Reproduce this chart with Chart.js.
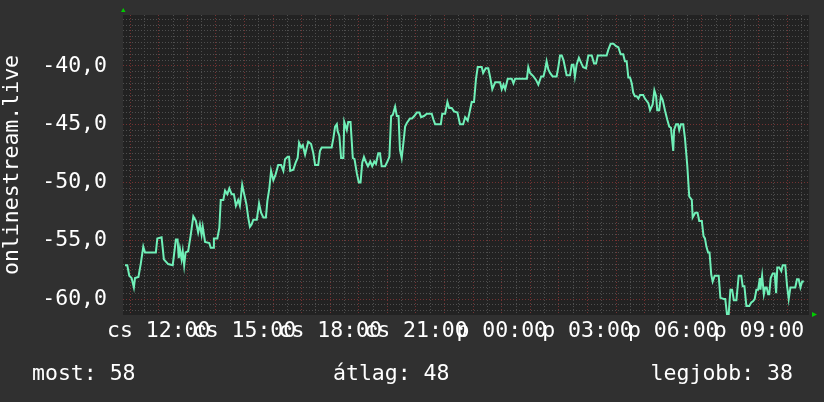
<!DOCTYPE html>
<html>
<head>
<meta charset="utf-8">
<script src="https://cdn.jsdelivr.net/npm/chart.js"></script>
<style>
html, body { margin: 0; padding: 0; background: #303030; }
#wrap { width: 824px; height: 402px; }
</style>
</head>
<body>
<div id="wrap"><canvas id="chart" width="824" height="402"></canvas></div>
<script>
// time in hours (24 = midnight of next day), signal level
const times = [10.82,10.90,10.97,11.05,11.13,11.17,11.29,11.37,11.46,11.52,11.90,11.95,12.10,12.18,12.33,12.49,12.53,12.60,12.66,12.70,
12.74,12.80,12.84,12.89,12.94,13.03,13.12,13.21,13.30,13.38,13.44,13.50,13.54,13.62,13.77,13.82,13.91,13.93,14.05,14.12,
14.17,14.26,14.32,14.40,14.47,14.55,14.63,14.70,14.78,14.84,14.92,14.99,15.07,15.13,15.19,15.25,15.31,15.43,15.51,15.58,
15.66,15.75,15.80,15.87,15.93,16.01,16.09,16.18,16.28,16.36,16.42,16.51,16.56,16.60,16.71,16.79,16.86,16.91,16.98,17.04,
17.12,17.18,17.23,17.33,17.41,17.47,17.58,17.64,17.70,18.05,18.11,18.17,18.23,18.26,18.32,18.38,18.46,18.49,18.58,18.63,
18.71,18.79,18.85,18.93,19.00,19.06,19.12,19.18,19.24,19.32,19.40,19.47,19.54,19.60,19.68,19.74,19.80,19.92,20.00,20.07,
20.13,20.19,20.27,20.33,20.39,20.44,20.50,20.56,20.62,20.68,20.79,20.86,20.94,21.03,21.12,21.18,21.28,21.38,21.55,21.61,
21.67,21.87,21.92,22.02,22.10,22.16,22.25,22.33,22.45,22.54,22.65,22.72,22.81,22.89,22.95,23.03,23.10,23.16,23.30,23.35,
23.44,23.53,23.59,23.67,23.77,23.94,24.00,24.06,24.12,24.21,24.35,24.41,24.47,24.88,24.93,24.99,25.11,25.20,25.28,25.38,
25.46,25.52,25.57,25.63,25.69,25.78,25.92,25.98,26.04,26.10,26.16,26.22,26.27,26.39,26.45,26.51,26.56,26.62,26.70,26.79,
26.85,26.95,27.03,27.15,27.23,27.30,27.36,27.67,27.73,27.81,27.91,28.00,28.08,28.16,28.25,28.31,28.37,28.43,28.49,28.55,
28.60,28.66,28.72,28.78,28.84,28.95,29.01,29.13,29.19,29.28,29.34,29.40,29.44,29.51,29.57,29.63,29.71,29.79,29.86,29.92,
30.00,30.03,30.10,30.17,30.21,30.27,30.35,30.41,30.49,30.56,30.65,30.68,30.77,30.85,30.91,31.00,31.06,31.11,31.16,31.22,
31.27,31.33,31.38,31.45,31.59,31.65,31.77,31.82,31.88,31.94,32.00,32.06,32.12,32.21,32.29,32.38,32.43,32.49,32.56,32.66,
32.73,32.79,32.85,32.91,32.97,33.03,33.05,33.11,33.17,33.22,33.27,33.32,33.36,33.41,33.48,33.55,33.60,33.64,33.71,33.78,
33.83,33.92,33.98,34.04,34.10,34.27,34.33,34.39,34.45,34.51,34.57];

const levels = [-57.1,-57.1,-58.0,-58.2,-59.0,-58.2,-58.1,-57.0,-55.5,-56.0,-56.0,-54.8,-54.7,-56.6,-57.0,-57.1,-56.3,-54.9,-54.9,-56.5,
-55.7,-56.6,-55.9,-57.1,-56.0,-55.9,-54.5,-52.9,-53.3,-54.3,-53.6,-54.5,-53.8,-55.1,-55.2,-55.6,-55.6,-54.8,-54.8,-53.9,
-51.5,-51.5,-50.7,-51.0,-50.5,-51.0,-51.0,-52.0,-51.5,-52.0,-50.2,-51.0,-51.9,-53.0,-53.8,-53.6,-53.2,-53.2,-51.8,-52.6,
-53.0,-53.0,-51.6,-50.5,-49.0,-49.8,-49.3,-48.5,-48.5,-49.0,-48.0,-47.8,-47.8,-49.0,-48.9,-48.3,-47.9,-46.6,-47.0,-46.8,
-47.6,-47.0,-46.5,-46.7,-47.5,-48.5,-48.5,-47.3,-47.0,-47.0,-46.2,-45.2,-45.0,-45.6,-46.0,-47.9,-47.9,-44.8,-45.5,-44.8,
-44.8,-47.9,-48.0,-49.2,-50.0,-50.0,-48.3,-47.8,-48.2,-48.6,-48.2,-48.6,-48.2,-48.4,-47.5,-47.5,-48.6,-48.6,-48.2,-47.8,
-44.3,-44.2,-43.5,-44.3,-44.3,-47.2,-47.9,-46.6,-45.2,-44.9,-44.5,-44.5,-44.3,-44.0,-44.0,-44.4,-44.3,-44.1,-44.1,-44.6,
-45.0,-45.0,-44.1,-44.1,-43.1,-43.6,-43.6,-43.9,-44.0,-45.0,-45.0,-44.4,-44.7,-43.8,-43.1,-43.1,-41.1,-40.1,-40.1,-40.6,
-40.2,-40.2,-40.9,-42.0,-41.4,-41.4,-42.0,-41.6,-42.0,-41.1,-41.1,-41.5,-41.1,-41.1,-40.1,-40.6,-40.9,-41.2,-41.6,-40.9,
-40.9,-40.3,-39.6,-40.3,-40.6,-40.9,-40.9,-40.1,-39.1,-39.1,-39.5,-40.2,-40.8,-40.8,-39.9,-39.9,-40.9,-39.9,-39.3,-39.8,
-40.1,-40.2,-39.1,-39.1,-39.8,-39.8,-39.1,-39.1,-38.6,-38.1,-38.1,-38.3,-38.4,-39.0,-39.0,-39.6,-39.6,-41.0,-41.0,-41.5,
-42.3,-42.6,-42.6,-42.8,-42.5,-42.5,-42.8,-43.2,-43.8,-43.3,-42.1,-42.6,-43.8,-43.8,-42.6,-42.9,-43.8,-44.6,-45.2,-45.3,
-47.3,-45.5,-45.0,-45.0,-45.5,-45.0,-45.0,-46.2,-48.5,-51.2,-51.5,-53.0,-52.6,-52.6,-53.3,-53.3,-54.6,-54.8,-55.5,-56.0,
-56.0,-57.9,-58.5,-58.0,-58.0,-59.9,-60.0,-60.0,-61.3,-61.3,-59.2,-59.2,-60.1,-60.1,-58.0,-58.0,-58.9,-58.9,-60.6,-60.6,
-60.3,-60.2,-60.0,-59.2,-59.2,-58.2,-59.2,-58.0,-59.6,-59.0,-59.0,-59.6,-59.6,-58.2,-57.8,-57.8,-59.5,-57.3,-57.3,-57.6,
-57.1,-57.1,-58.8,-60.0,-59.0,-59.0,-58.3,-58.3,-59.0,-58.5,-58.5];

const tickHours = [12, 15, 18, 21, 24, 27, 30, 33];
const tickLabels = ['cs 12:00', 'cs 15:00', 'cs 18:00', 'cs 21:00', 'p 00:00', 'p 03:00', 'p 06:00', 'p 09:00'];
const yLabelValues = [-60, -55, -50, -45, -40];
const statNames = ['most', 'átlag', 'legjobb'];
const statValues = [58, 48, 38];
const axisTitle = 'onlinestream.live';

const FONT = "'DejaVu Sans Mono', monospace";
const gridGrey = '#4e4e4e';
const gridRed = '#743232';

const xGrid = [];
for (let h = 11; h <= 34.5; h += 0.5) xGrid.push(h);
const yGrid = [];
for (let v = -61; v <= -36; v += 0.5) yGrid.push(v);

const rrdDecor = {
  id: 'rrdDecor',
  beforeDraw(chart) {
    const { ctx, chartArea: a } = chart;
    ctx.save();
    ctx.fillStyle = '#303030';
    ctx.fillRect(0, 0, chart.width, chart.height);
    ctx.fillStyle = '#222222';
    ctx.fillRect(a.left, a.top, a.right - a.left, a.bottom - a.top);
    ctx.restore();
  },
  afterDraw(chart) {
    const { ctx, chartArea: a } = chart;
    ctx.save();
    // axis arrows
    ctx.fillStyle = '#00cc00';
    ctx.beginPath();
    ctx.moveTo(a.left - 2, a.top - 3);
    ctx.lineTo(a.left + 2.5, a.top - 3);
    ctx.lineTo(a.left + 0.25, a.top - 7);
    ctx.closePath();
    ctx.fill();
    ctx.beginPath();
    ctx.moveTo(a.right + 3, a.bottom - 3);
    ctx.lineTo(a.right + 3, a.bottom + 2);
    ctx.lineTo(a.right + 8, a.bottom - 0.5);
    ctx.closePath();
    ctx.fill();
    // summary line
    ctx.fillStyle = '#ffffff';
    ctx.font = '21.5px ' + FONT;
    ctx.textBaseline = 'middle';
    const txt = statNames.map((n, i) => n + ': ' + statValues[i]);
    ctx.textAlign = 'left';
    ctx.fillText(txt[0], 32, 374);
    ctx.fillText(txt[1], 333, 374);
    ctx.textAlign = 'right';
    ctx.fillText(txt[2], 793, 374);
    ctx.restore();
  }
};

const chart = new Chart(document.getElementById('chart'), {
  type: 'line',
  data: {
    datasets: [{
      data: times.map((t, i) => ({ x: t, y: levels[i] })),
      borderColor: '#70f0b8',
      borderWidth: 2,
      pointRadius: 0,
      tension: 0,
      fill: false
    }]
  },
  options: {
    responsive: false,
    animation: false,
    events: [],
    layout: { padding: { top: 15, right: 15, left: 0, bottom: 0 } },
    plugins: { legend: { display: false }, tooltip: { enabled: false } },
    scales: {
      x: {
        type: 'linear',
        min: 10.75,
        max: 34.75,
        afterBuildTicks: s => { s.ticks = xGrid.map(v => ({ value: v })); },
        afterFit: s => { s.height = 87; s.paddingLeft = 0; s.paddingRight = 0; },
        grid: {
          drawTicks: false,
          color: c => (c.tick && Number.isInteger(c.tick.value)) ? gridRed : gridGrey,
          lineWidth: 1
        },
        border: { display: false, dash: [1, 2] },
        ticks: {
          autoSkip: false,
          minRotation: 0,
          maxRotation: 0,
          padding: 4,
          color: '#ffffff',
          font: { family: FONT, size: 21.5 },
          callback: v => {
            const i = tickHours.indexOf(v);
            return i >= 0 ? tickLabels[i] : '';
          }
        }
      },
      y: {
        min: -61.37,
        max: -35.63,
        afterBuildTicks: s => { s.ticks = yGrid.map(v => ({ value: v })); },
        afterFit: s => { s.width = 123; s.paddingTop = 0; s.paddingBottom = 0; },
        grid: {
          drawTicks: false,
          color: c => (c.tick && c.tick.value % 5 === 0) ? gridRed : gridGrey,
          lineWidth: 1
        },
        border: { display: false, dash: [1, 2] },
        title: {
          display: true,
          text: axisTitle,
          color: '#ffffff',
          font: { family: FONT, size: 21.5 },
          padding: 0
        },
        ticks: {
          autoSkip: false,
          padding: 16,
          color: '#ffffff',
          font: { family: FONT, size: 21.5 },
          callback: v => yLabelValues.includes(v) ? v.toFixed(1).replace('.', ',') : ''
        }
      }
    }
  },
  plugins: [rrdDecor]
});
</script>
</body>
</html>
